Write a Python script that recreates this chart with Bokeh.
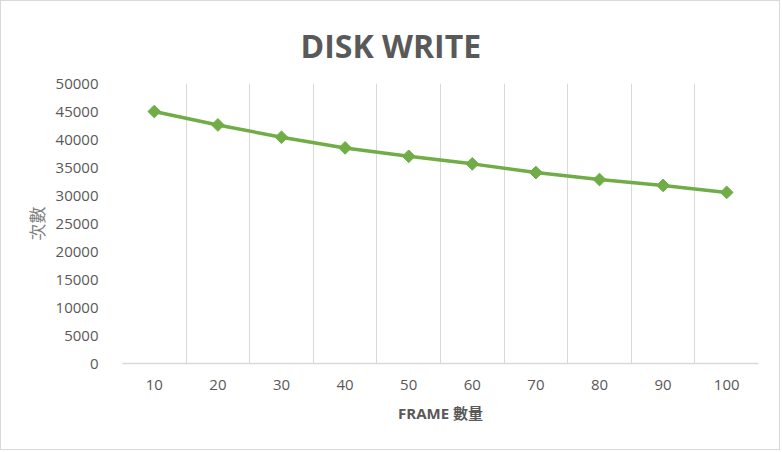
import math
from bokeh.plotting import figure
from bokeh.models import Range1d, FixedTicker, BasicTickFormatter, Title
from bokeh.embed import file_html
from bokeh.resources import INLINE

# ---- data ----
frames = [10, 20, 30, 40, 50, 60, 70, 80, 90, 100]
writes = [45000, 42600, 40400, 38500, 37000, 35650, 34100, 32850, 31800, 30550]
y_ticks = [0, 5000, 10000, 15000, 20000, 25000, 30000, 35000, 40000, 45000, 50000]
title_text = "DISK WRITE"
x_label = "FRAME 數量"
y_label = "次數"

FONT = "'Open Sans', 'Noto Sans CJK TC', sans-serif"
GRAY = "#595959"
GRID = "#d9d9d9"
GREEN = "#70ad47"

p = figure(width=780, height=450, output_backend="svg", toolbar_location=None,
           x_range=Range1d(5, 105), y_range=Range1d(0, 50000),
           min_border_left=121, min_border_right=23, min_border_top=82, min_border_bottom=88)
p.styles = {"border": "1px solid #d9d9d9"}
p.outline_line_color = None
p.background_fill_color = "white"
p.border_fill_color = "white"

# title (placed so that it is centred on the whole canvas)
p.title = Title(text=title_text, align="left", offset=178, standoff=30,
                vertical_align="top",
                text_font=FONT, text_font_style="bold", text_font_size="32px",
                text_color=GRAY)

# grid: vertical lines at category boundaries
half = (frames[1] - frames[0]) / 2
p.xgrid.ticker = FixedTicker(ticks=[f - half for f in frames] + [frames[-1] + half])
p.xgrid.grid_line_color = GRID
p.xgrid.grid_line_width = 1
p.ygrid.visible = False

# x axis
xa = p.xaxis[0]
xa.ticker = FixedTicker(ticks=frames)
xa.axis_line_color = GRID
xa.axis_line_width = 1.5
xa.major_tick_line_color = None
xa.minor_tick_line_color = None
xa.major_label_standoff = 10
xa.major_label_text_font = FONT
xa.major_label_text_font_size = "15px"
xa.major_label_text_color = GRAY
xa.axis_label = x_label
xa.axis_label_text_font = FONT
xa.axis_label_text_font_style = "bold"
xa.axis_label_text_font_size = "15px"
xa.axis_label_text_color = GRAY
xa.axis_label_standoff = 10

# y axis
ya = p.yaxis[0]
ya.ticker = FixedTicker(ticks=y_ticks)
ya.formatter = BasicTickFormatter(use_scientific=False)
ya.axis_line_color = None
ya.major_tick_line_color = None
ya.minor_tick_line_color = None
ya.major_label_standoff = 18
ya.major_label_text_font = FONT
ya.major_label_text_font_size = "15px"
ya.major_label_text_color = GRAY
ya.axis_label = y_label
ya.axis_label_text_font = FONT
ya.axis_label_text_font_style = "normal"
ya.axis_label_text_font_size = "17px"
ya.axis_label_text_color = "#7f7f7f"
ya.axis_label_standoff = 4

# series
p.line(frames, writes, line_color=GREEN, line_width=3.5)
p.scatter(frames, writes, marker="square", size=9, angle=math.pi / 4,
          fill_color=GREEN, line_color=GREEN)

open("out.html", "w").write(file_html(p, INLINE))
